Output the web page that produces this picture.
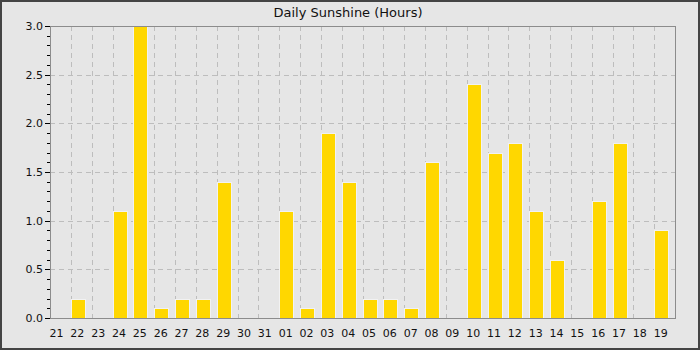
<!DOCTYPE html>
<html>
<head>
<meta charset="utf-8">
<script src="https://cdn.jsdelivr.net/npm/d3@7"></script>
<style>
	body { margin: 0; background: #e6e6e6; }
	svg { display: block; font-family: "DejaVu Sans", sans-serif; }
</style>
</head>
<body>
<div id="chart"></div>
<script>
// Day labels along the x axis
const days = ["21", "22", "23", "24", "25", "26", "27", "28", "29", "30", "31",
	"01", "02", "03", "04", "05", "06", "07", "08", "09", "10",
	"11", "12", "13", "14", "15", "16", "17", "18", "19"];

// Sunshine hours per day
const sunshine = [0, 0.2, 0, 1.1, 3.0, 0.1, 0.2, 0.2, 1.4, 0, 0,
	1.1, 0.1, 1.9, 1.4, 0.2, 0.2, 0.1, 1.6, 0, 2.4,
	1.7, 1.8, 1.1, 0.6, 0, 1.2, 1.8, 0, 0.9];

const yTicks = [0, 0.5, 1.0, 1.5, 2.0, 2.5, 3.0];

const width = 700;
const height = 350;
const margin = { top: 26, right: 25, bottom: 32, left: 50 };

const svg = d3
	.select("#chart")
	.append("svg")
	.attr("width", width)
	.attr("height", height);

// background
svg.append("rect").attr("width", width).attr("height", height).attr("fill", "#e6e6e6");

const x = d3
	.scaleBand()
	.domain(days)
	.range([margin.left, width - margin.right])
	.paddingInner(0)
	.paddingOuter(0);

const y = d3
	.scaleLinear()
	.domain([0, 3])
	.range([height - margin.bottom, margin.top]);

// Grid lines
const grid = svg.append("g").attr("stroke", "#bdbdbd").attr("stroke-dasharray", "5,4");

grid
	.selectAll("line.v")
	.data(days.slice(1))
	.enter()
	.append("line")
	.attr("x1", (d) => Math.round(x(d)) + 0.5)
	.attr("x2", (d) => Math.round(x(d)) + 0.5)
	.attr("y1", margin.top)
	.attr("y2", height - margin.bottom);

grid
	.selectAll("line.h")
	.data(yTicks.slice(1, -1))
	.enter()
	.append("line")
	.attr("x1", margin.left)
	.attr("x2", width - margin.right)
	.attr("y1", (d) => Math.round(y(d)) + 0.5)
	.attr("y2", (d) => Math.round(y(d)) + 0.5);

// Bars
svg
	.selectAll("rect.bar")
	.data(sunshine)
	.enter()
	.append("rect")
	.attr("class", "bar")
	.attr("x", (d, i) => Math.round(x(days[i])) + 0.5)
	.attr("width", Math.round(x.bandwidth() * 0.68))
	.attr("y", (d) => Math.round(y(d)) + 0.5)
	.attr("height", (d) => Math.max(0, Math.round(y(0)) - Math.round(y(d))))
	.attr("fill", "#ffd700")
	.attr("stroke", (d) => (d > 0 ? "#f2f2f2" : "none"))
	.attr("stroke-width", 1);

// Plot frame
svg
	.append("rect")
	.attr("x", margin.left + 0.5)
	.attr("y", margin.top + 0.5)
	.attr("width", width - margin.left - margin.right)
	.attr("height", height - margin.top - margin.bottom)
	.attr("fill", "none")
	.attr("stroke", "#8c8c8c")
	.attr("stroke-width", 1);

// Y axis ticks (major + minor)
const minorTicks = d3.range(0, 31).map((d) => d / 10);
svg
	.append("g")
	.selectAll("line")
	.data(minorTicks)
	.enter()
	.append("line")
	.attr("x1", (d, i) => (i % 5 === 0 ? margin.left - 5 : margin.left - 3))
	.attr("x2", margin.left)
	.attr("y1", (d) => Math.round(y(d)) + 0.5)
	.attr("y2", (d) => Math.round(y(d)) + 0.5)
	.attr("stroke", "#000");

svg
	.append("g")
	.selectAll("text")
	.data(yTicks)
	.enter()
	.append("text")
	.attr("x", margin.left - 7)
	.attr("y", (d) => y(d) + 4)
	.attr("text-anchor", "end")
	.attr("font-size", 11)
	.attr("fill", "#111")
	.text((d) => d.toFixed(1));

// X labels
svg
	.append("g")
	.selectAll("text")
	.data(days)
	.enter()
	.append("text")
	.attr("x", (d) => x(d) + 6.5)
	.attr("y", height - margin.bottom + 19)
	.attr("text-anchor", "middle")
	.attr("font-size", 11)
	.attr("fill", "#111")
	.text((d) => d);

// Title
svg
	.append("text")
	.attr("x", 348)
	.attr("y", 17)
	.attr("text-anchor", "middle")
	.attr("font-size", 13)
	.attr("fill", "#111")
	.text("Daily Sunshine (Hours)");

// Outer border
svg.append("line").attr("x1", 0).attr("x2", width).attr("y1", 1).attr("y2", 1).attr("stroke", "#444").attr("stroke-width", 2);
svg.append("line").attr("x1", 1).attr("x2", 1).attr("y1", 0).attr("y2", height).attr("stroke", "#444").attr("stroke-width", 2);
svg.append("line").attr("x1", 0).attr("x2", width).attr("y1", height - 1).attr("y2", height - 1).attr("stroke", "#444").attr("stroke-width", 2);
svg.append("line").attr("x1", width - 1).attr("x2", width - 1).attr("y1", 0).attr("y2", height).attr("stroke", "#444").attr("stroke-width", 2);
</script>
</body>
</html>
